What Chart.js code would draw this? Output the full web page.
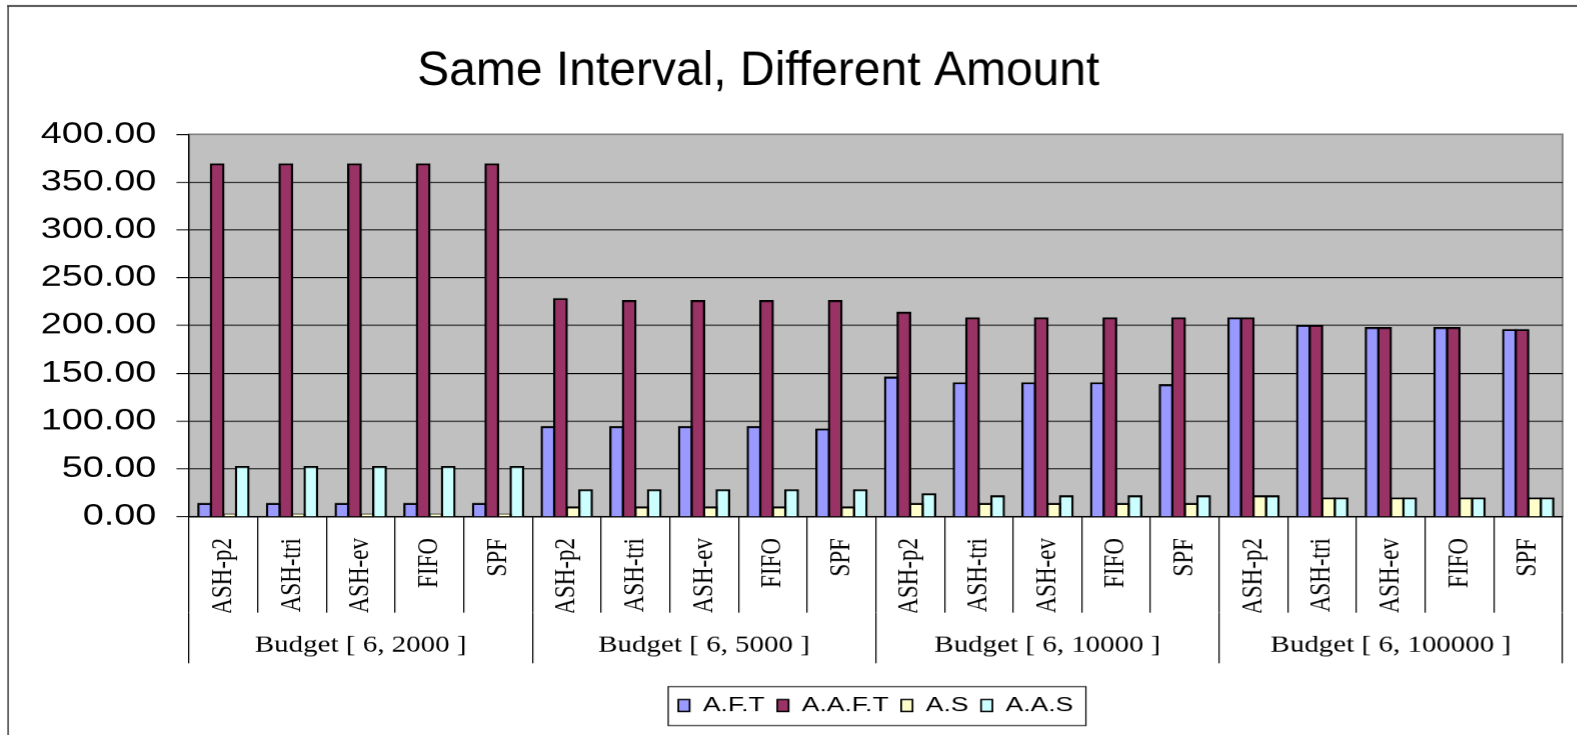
<!DOCTYPE html>
<html>
<head>
<meta charset="utf-8">
<title>Same Interval, Different Amount</title>
<script src="https://cdn.jsdelivr.net/npm/chart.js@4.4.1/dist/chart.umd.min.js"></script>
<style>
  html, body { margin: 0; padding: 0; background: #fff; overflow: hidden; }
  #wrap { width: 1577px; height: 735px; overflow: hidden; }
  /* the chart is laid out narrow and then widened, so every glyph and line gets the same wide look */
  #chart { display: block; transform: scaleX(1.26); transform-origin: 0 0; }
</style>
</head>
<body>
<div id="wrap"><canvas id="chart" width="1252" height="735"></canvas></div>
<script>
// Scheduling methods, repeated once per budget group
const methods = ['ASH-p2', 'ASH-tri', 'ASH-ev', 'FIFO', 'SPF'];
const budgets = ['Budget [ 6, 2000 ]', 'Budget [ 6, 5000 ]', 'Budget [ 6, 10000 ]', 'Budget [ 6, 100000 ]'];
const categories = budgets.flatMap(() => methods);

// Series names and values (20 values each, 5 methods x 4 budgets)
const seriesNames = ['A.F.T', 'A.A.F.T', 'A.S', 'A.A.S'];
const aftValues  = [13.5, 13.5, 13.5, 13.5, 13.5, 93.7, 93.7, 93.7, 93.7, 91.3, 145.6, 139.7, 139.7, 139.7, 137.6, 207.5, 199.6, 197.5, 197.5, 195.4];
const aaftValues = [368.7, 368.7, 368.7, 368.7, 368.7, 227.8, 225.7, 225.7, 225.7, 225.7, 213.5, 207.5, 207.5, 207.5, 207.5, 207.5, 199.6, 197.5, 197.5, 195.4];
const asValues   = [2, 2, 2, 2, 2, 9.6, 9.6, 9.6, 9.6, 9.6, 13.4, 13.4, 13.4, 13.4, 13.4, 21.4, 19.3, 19.3, 19.3, 19.3];
const aasValues  = [52, 52, 52, 52, 52, 27.7, 27.7, 27.7, 27.7, 27.7, 23.5, 21.4, 21.4, 21.4, 21.4, 21.4, 19.3, 19.3, 19.3, 19.3];

// Value axis
const yMin = 0;
const yMax = 400;
const yStep = 50;

const seriesColors = ['#9999ff', '#993366', '#ffffcc', '#ccffff'];
const sansFont = "'Liberation Sans', Arial, sans-serif";
const serifFont = "'Liberation Serif', 'Times New Roman', serif";
const stretch = 1.26;

// Frame, title, grey plot area and the box round the legend
const chartFrame = {
    id: 'chartFrame',
    beforeDraw(chart) {
        const { ctx, chartArea: a } = chart;
        ctx.save();

        ctx.strokeStyle = '#404040';
        ctx.lineWidth = 2;
        ctx.beginPath();
        ctx.moveTo(5.6, 6);
        ctx.lineTo(chart.width, 6);
        ctx.stroke();
        ctx.lineWidth = 1.2;
        ctx.beginPath();
        ctx.moveTo(6.4, 6);
        ctx.lineTo(6.4, chart.height);
        ctx.stroke();

        // title keeps its normal proportions
        ctx.save();
        ctx.translate(601.6, 72);
        ctx.scale(1 / stretch, 1);
        ctx.fillStyle = '#000';
        ctx.font = '48px ' + sansFont;
        ctx.textAlign = 'center';
        ctx.textBaseline = 'middle';
        ctx.fillText('Same Interval, Different Amount', 0, 0);
        ctx.restore();

        ctx.fillStyle = '#c0c0c0';
        ctx.fillRect(a.left, a.top, a.width, a.height);
        ctx.strokeStyle = '#808080';
        ctx.lineWidth = 1.5;
        ctx.strokeRect(a.left, a.top, a.width, a.height);
        ctx.restore();
    },
    afterDraw(chart) {
        const { ctx, legend } = chart;
        const boxes = legend.legendHitBoxes;
        if (!boxes || !boxes.length) return;
        const first = boxes[0];
        const last = boxes[boxes.length - 1];
        const left = first.left - 8;
        const right = last.left + last.width + 10;
        ctx.save();
        ctx.strokeStyle = '#000';
        ctx.lineWidth = 1;
        ctx.strokeRect(left, legend.top + 1.5, right - left, legend.bottom - legend.top - 2);
        ctx.restore();
    }
};

function makeDataset(label, values, color) {
    return {
        label: label,
        data: values,
        backgroundColor: color,
        borderColor: '#000',
        borderWidth: { top: 2, left: 1.8, right: 1.8, bottom: 0 },
        inflateAmount: 0.9,
        categoryPercentage: 0.73,
        barPercentage: 1.0
    };
}

const ctx = document.getElementById('chart').getContext('2d');

new Chart(ctx, {
    type: 'bar',
    data: {
        labels: categories,
        datasets: [
            makeDataset(seriesNames[0], aftValues, seriesColors[0]),
            makeDataset(seriesNames[1], aaftValues, seriesColors[1]),
            makeDataset(seriesNames[2], asValues, seriesColors[2]),
            makeDataset(seriesNames[3], aasValues, seriesColors[3])
        ]
    },
    options: {
        responsive: false,
        devicePixelRatio: stretch,
        animation: false,
        layout: { padding: { left: 10, right: 12.3, top: 134.3, bottom: 9 } },
        scales: {
            y: {
                min: yMin,
                max: yMax,
                afterFit: axis => { axis.width = 140; },
                border: { display: true, color: '#000', width: 1 },
                grid: {
                    color: c => (c.tick && c.tick.value === yMax ? 'rgba(0,0,0,0)' : '#000'),
                    tickColor: '#000',
                    tickLength: 10,
                    lineWidth: 1
                },
                ticks: {
                    stepSize: yStep,
                    padding: 16,
                    color: '#000',
                    font: { family: sansFont, size: 30 },
                    callback: value => value.toFixed(2)
                }
            },
            x: {
                afterFit: axis => { axis.height = 96; },
                border: { display: true, color: '#000', width: 1.4 },
                grid: {
                    offset: true,
                    drawOnChartArea: false,
                    tickLength: 96,
                    color: '#000',
                    lineWidth: 1
                },
                ticks: {
                    autoSkip: false,
                    minRotation: 90,
                    maxRotation: 90,
                    padding: -74.5,
                    color: '#000',
                    font: { family: serifFont, size: 23 }
                }
            },
            x2: {
                type: 'category',
                position: 'bottom',
                labels: budgets,
                offset: true,
                afterFit: axis => { axis.height = 72.5; },
                border: { display: false },
                grid: {
                    offset: true,
                    drawOnChartArea: false,
                    tickLength: 50.5,
                    color: '#000',
                    lineWidth: 1
                },
                ticks: {
                    autoSkip: false,
                    maxRotation: 0,
                    padding: -31.1,
                    color: '#000',
                    font: { family: serifFont, size: 23 }
                }
            }
        },
        plugins: {
            title: { display: false },
            tooltip: { enabled: false },
            legend: {
                position: 'bottom',
                fullSize: false,
                labels: {
                    boxWidth: 9,
                    boxHeight: 12,
                    padding: 10,
                    color: '#000',
                    font: { family: sansFont, size: 21 }
                }
            }
        }
    },
    plugins: [chartFrame]
});
</script>
</body>
</html>
